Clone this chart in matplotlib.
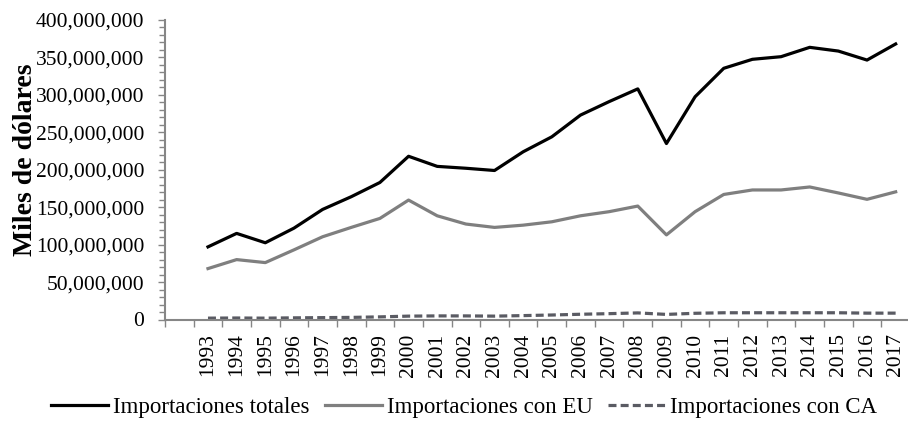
import numpy as np
import matplotlib.pyplot as plt
from matplotlib.ticker import FuncFormatter, MultipleLocator, FixedLocator

plt.rcParams['font.family'] = ['Liberation Serif', 'DejaVu Serif']

# first category is blank in the original chart
years = [''] + [str(y) for y in range(1993, 2018)]

totales = [97, 115, 102.5, 122, 147, 164, 183, 218, 204.5, 202, 199, 224, 244,
           273, 291, 308, 235, 297.5, 335.5, 347.5, 351, 363.5, 358.5, 346.5, 368]
con_eu = [68, 80, 76, 93, 110.5, 123, 135, 159.5, 138.5, 127.5, 123, 126, 130.5,
          138.5, 144, 151.5, 113, 144, 167, 173, 173, 177, 169, 160.5, 170.5]
con_ca = [1.8, 2.0, 1.8, 2.2, 2.5, 2.8, 3.5, 4.5, 4.8, 4.8, 4.5, 5.2, 6.0,
          7.0, 7.8, 8.8, 6.8, 8.3, 9.0, 9.0, 9.0, 9.0, 9.0, 8.5, 8.5]

scale = 1_000_000
x = np.arange(1, len(years))

fig = plt.figure(figsize=(9.08, 4.25), dpi=100)
ax = fig.add_axes([165 / 908, 105.5 / 425, 745 / 908, 299.5 / 425])

ax.plot(x, np.array(totales) * scale, color='black', lw=2.3, label='Importaciones totales')
ax.plot(x, np.array(con_eu) * scale, color='#7f7f7f', lw=2.3, label='Importaciones con EU')
ax.plot(x, np.array(con_ca) * scale, color='#5a5b63', lw=2.3, ls=(0, (2.5, 1.3)),
        label='Importaciones con CA')

ax.set_xlim(-0.5, len(years) - 0.5)
ax.set_ylim(0, 400_000_000)

axis_col = '#868686'
for s in ['top', 'right']:
    ax.spines[s].set_visible(False)
for s in ['left', 'bottom']:
    ax.spines[s].set_color(axis_col)
    ax.spines[s].set_linewidth(1.5)

ax.yaxis.set_major_locator(MultipleLocator(50_000_000))
ax.yaxis.set_minor_locator(MultipleLocator(10_000_000))
ax.yaxis.set_major_formatter(FuncFormatter(lambda v, p: f'{v:,.0f}'))
ax.tick_params(axis='y', which='major', length=5, width=1, color=axis_col,
               labelsize=15.5, pad=10)
ax.tick_params(axis='y', which='minor', length=4, width=1, color=axis_col)

# tick marks at category boundaries, labels at centres
ax.xaxis.set_major_locator(FixedLocator(np.arange(-0.5, len(years), 1)))
ax.xaxis.set_major_formatter(FuncFormatter(lambda v, p: ''))
ax.xaxis.set_minor_locator(FixedLocator(np.arange(len(years))))
ax.set_xticklabels(years, minor=True, rotation=90)
ax.tick_params(axis='x', which='major', length=5, width=1, color=axis_col)
ax.tick_params(axis='x', which='minor', length=0, labelsize=15.5, pad=10)

fig.text(26 / 908, 1 - 160 / 425, 'Miles de dólares', rotation=90, ha='center',
         va='center', fontsize=20, fontweight='bold')

ax.legend(loc='lower center', bbox_to_anchor=(299 / 745, -0.36), ncol=3,
          frameon=False, fontsize=16.5, handlelength=2.5, handletextpad=0.22,
          columnspacing=0.65, borderaxespad=0)

fig.savefig('out.png', dpi=100)
